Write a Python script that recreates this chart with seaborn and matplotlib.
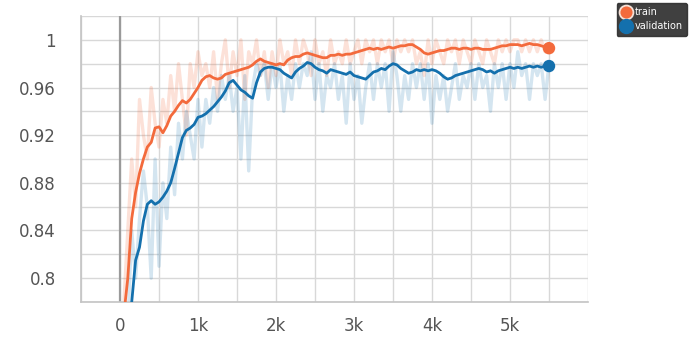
import matplotlib
matplotlib.use("Agg")
import matplotlib.pyplot as plt
from matplotlib.lines import Line2D
import seaborn as sns
import pandas as pd

# training steps, logged every 50 iterations
steps = list(range(0, 5501, 50))

# smoothed accuracy curves
train_smooth = [
    0.720, 0.770, 0.800, 0.850, 0.872, 0.888, 0.900, 0.910, 0.914, 0.926,
    0.927, 0.922, 0.928, 0.936, 0.940, 0.945, 0.949, 0.947, 0.950, 0.955,
    0.960, 0.966, 0.969, 0.970, 0.968, 0.967, 0.968, 0.971, 0.972, 0.973,
    0.974, 0.975, 0.976, 0.977, 0.979, 0.982, 0.984, 0.982, 0.981, 0.980,
    0.979, 0.980, 0.979, 0.983, 0.985, 0.986, 0.986, 0.988, 0.989, 0.988,
    0.987, 0.986, 0.985, 0.985, 0.987, 0.987, 0.988, 0.987, 0.988, 0.988,
    0.989, 0.990, 0.991, 0.992, 0.993, 0.992, 0.993, 0.992, 0.993, 0.994,
    0.993, 0.994, 0.995, 0.995, 0.996, 0.996, 0.994, 0.992, 0.989, 0.988,
    0.989, 0.990, 0.991, 0.991, 0.992, 0.993, 0.993, 0.992, 0.993, 0.993,
    0.992, 0.993, 0.993, 0.992, 0.992, 0.992, 0.993, 0.994, 0.995, 0.995,
    0.996, 0.996, 0.996, 0.995, 0.996, 0.997, 0.996, 0.996, 0.995, 0.994,
    0.993,
]
val_smooth = [
    0.700, 0.720, 0.750, 0.780, 0.815, 0.826, 0.848, 0.862, 0.865, 0.862,
    0.864, 0.868, 0.873, 0.880, 0.892, 0.905, 0.918, 0.924, 0.926, 0.929,
    0.935, 0.936, 0.938, 0.941, 0.944, 0.948, 0.952, 0.957, 0.964, 0.966,
    0.962, 0.958, 0.956, 0.953, 0.951, 0.964, 0.973, 0.976, 0.977, 0.977,
    0.976, 0.975, 0.972, 0.970, 0.968, 0.973, 0.976, 0.978, 0.981, 0.980,
    0.977, 0.975, 0.974, 0.972, 0.975, 0.974, 0.973, 0.972, 0.971, 0.973,
    0.970, 0.969, 0.968, 0.967, 0.970, 0.973, 0.974, 0.976, 0.975, 0.978,
    0.980, 0.979, 0.976, 0.974, 0.972, 0.973, 0.975, 0.974, 0.975, 0.974,
    0.975, 0.974, 0.972, 0.969, 0.967, 0.968, 0.970, 0.971, 0.972, 0.973,
    0.974, 0.975, 0.976, 0.975, 0.973, 0.974, 0.972, 0.974, 0.975, 0.976,
    0.977, 0.976, 0.977, 0.976, 0.977, 0.978, 0.977, 0.978, 0.977, 0.978,
    0.978,
]

# raw (unsmoothed) accuracy
train_raw = [
    0.70, 0.78, 0.84, 0.90, 0.86, 0.95, 0.92, 0.90, 0.96, 0.93,
    0.91, 0.95, 0.93, 0.97, 0.94, 0.98, 0.95, 0.92, 0.98, 0.96,
    0.99, 0.97, 0.98, 0.96, 0.99, 0.95, 0.98, 1.00, 0.96, 0.99,
    0.97, 1.00, 0.95, 0.99, 0.98, 1.00, 0.97, 0.99, 0.96, 0.99,
    0.97, 1.00, 0.98, 0.99, 0.97, 1.00, 0.98, 1.00, 0.99, 0.97,
    1.00, 0.98, 0.99, 0.97, 1.00, 0.98, 0.99, 0.98, 1.00, 0.98,
    0.99, 1.00, 0.98, 1.00, 0.99, 1.00, 0.98, 1.00, 0.99, 1.00,
    0.98, 1.00, 0.99, 1.00, 0.99, 1.00, 0.98, 0.99, 0.97, 1.00,
    0.98, 1.00, 0.99, 0.98, 1.00, 0.99, 1.00, 0.98, 1.00, 0.99,
    0.98, 1.00, 0.99, 0.98, 1.00, 0.99, 0.98, 1.00, 0.99, 1.00,
    0.99, 1.00, 1.00, 0.99, 1.00, 0.99, 1.00, 0.99, 1.00, 0.99,
    0.99,
]
val_raw = [
    0.70, 0.72, 0.76, 0.84, 0.80, 0.85, 0.89, 0.86, 0.80, 0.90,
    0.81, 0.88, 0.85, 0.91, 0.87, 0.93, 0.90, 0.94, 0.92, 0.90,
    0.95, 0.91, 0.95, 0.93, 0.96, 0.94, 0.97, 0.95, 0.97, 0.94,
    0.96, 0.90, 0.97, 0.89, 0.96, 0.98, 0.97, 0.98, 0.95, 0.98,
    0.96, 0.98, 0.94, 0.97, 0.95, 0.98, 0.96, 0.98, 0.97, 0.99,
    0.95, 0.98, 0.94, 0.97, 0.96, 0.98, 0.95, 0.97, 0.93, 0.98,
    0.95, 0.97, 0.93, 0.96, 0.98, 0.95, 0.98, 0.96, 0.98, 0.94,
    0.99, 0.97, 0.94, 0.97, 0.95, 0.98, 0.96, 0.98, 0.95, 0.98,
    0.93, 0.97, 0.95, 0.97, 0.94, 0.96, 0.98, 0.95, 0.97, 0.96,
    0.98, 0.95, 0.98, 0.96, 0.97, 0.94, 0.98, 0.96, 0.98, 0.95,
    0.98, 0.96, 0.99, 0.97, 0.98, 0.95, 0.98, 0.97, 0.98, 0.95,
    0.98,
]

y_ticks = [0.8, 0.84, 0.88, 0.92, 0.96, 1.0]
y_tick_labels = ["0.8", "0.84", "0.88", "0.92", "0.96", "1"]
x_ticks = [0, 1000, 2000, 3000, 4000, 5000]
x_tick_labels = ["0", "1k", "2k", "3k", "4k", "5k"]

TRAIN_COLOR = "#f36a3c"
VAL_COLOR = "#1470ad"

df = pd.DataFrame({
    "step": steps,
    "train": train_smooth,
    "validation": val_smooth,
    "train_raw": train_raw,
    "val_raw": val_raw,
})

sns.set_style("white")
plt.rcParams["font.family"] = ["DejaVu Sans"]

fig = plt.figure(figsize=(6.99, 3.37), dpi=100)
ax = fig.add_axes([0.1159, 0.1039, 0.7253, 0.8486])

# grid every 500 steps / 0.02 accuracy
for gx in range(-500, 6001, 500):
    ax.axvline(gx, color="#d8d8d8", lw=1.0, zorder=0)
for i in range(13):
    ax.axhline(0.78 + 0.02 * i, color="#d8d8d8", lw=1.0, zorder=0)
ax.axvline(0, color="#9a9a9a", lw=1.6, zorder=1)

sns.lineplot(data=df, x="step", y="train_raw", ax=ax, color=TRAIN_COLOR,
             alpha=0.2, lw=2.4, zorder=2)
sns.lineplot(data=df, x="step", y="val_raw", ax=ax, color=VAL_COLOR,
             alpha=0.18, lw=2.4, zorder=2)
sns.lineplot(data=df, x="step", y="train", ax=ax, color=TRAIN_COLOR,
             lw=2.0, zorder=3)
sns.lineplot(data=df, x="step", y="validation", ax=ax, color=VAL_COLOR,
             lw=2.0, zorder=3)

last = df.iloc[[-1]]
sns.scatterplot(data=last, x="step", y="train", ax=ax, color=TRAIN_COLOR,
                s=80, edgecolor="none", zorder=4)
sns.scatterplot(data=last, x="step", y="validation", ax=ax, color=VAL_COLOR,
                s=80, edgecolor="none", zorder=4)

ax.set_xlim(-500, 6000)
ax.set_ylim(0.78, 1.02)
ax.set_xticks(x_ticks)
ax.set_xticklabels(x_tick_labels)
ax.set_yticks(y_ticks)
ax.set_yticklabels(y_tick_labels)
ax.set_xticks(range(-500, 6001, 500), minor=True)
ax.set_xlabel("")
ax.set_ylabel("")
ax.tick_params(axis="both", which="both", labelsize=12, labelcolor="#555555",
               color="#c8c8c8", length=4, width=1)
ax.tick_params(axis="x", pad=7)
ax.tick_params(axis="y", pad=14)

for side in ("top", "right"):
    ax.spines[side].set_visible(False)
for side in ("left", "bottom"):
    ax.spines[side].set_color("#c4c4c4")
    ax.spines[side].set_linewidth(1.2)

handles = [
    Line2D([], [], marker="o", ls="none", markersize=10, markerfacecolor=TRAIN_COLOR,
           markeredgecolor="#f5e0d6", markeredgewidth=1.3),
    Line2D([], [], marker="o", ls="none", markersize=10, markerfacecolor=VAL_COLOR,
           markeredgecolor=VAL_COLOR),
]
leg = fig.legend(handles, ["train", "validation"], loc="upper left",
                 bbox_to_anchor=(0.882, 0.992), frameon=True, fontsize=7,
                 handletextpad=0.4, borderpad=0.45, labelspacing=0.45,
                 handlelength=1.0, fancybox=True, borderaxespad=0)
leg.get_frame().set_facecolor("#2f2f2f")
leg.get_frame().set_edgecolor("#2f2f2f")
leg.get_frame().set_alpha(0.92)
for t in leg.get_texts():
    t.set_color("white")

fig.savefig("out.png", dpi=100)
